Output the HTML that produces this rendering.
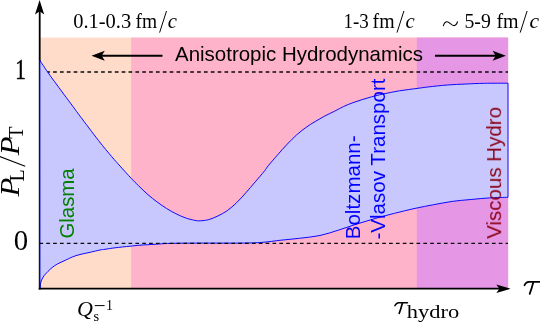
<!DOCTYPE html>
<html>
<head>
<meta charset="utf-8">
<title>Pressure anisotropy evolution</title>
<style>
html,body{margin:0;padding:0;background:#ffffff;}
body{width:540px;height:322px;overflow:hidden;font-family:"Liberation Sans",sans-serif;}
svg{display:block;}
.sans{font-family:"Liberation Sans",sans-serif;}
.ser{font-family:"Liberation Serif",serif;}
.it{font-family:"Liberation Serif",serif;font-style:italic;}
</style>
</head>
<body>
<svg width="540" height="322" viewBox="0 0 540 322">
  <rect x="0" y="0" width="540" height="322" fill="#ffffff"/>

  <!-- background bands -->
  <rect x="39.6" y="37.6" width="468.5" height="250.9" fill="#ffdcc9"/>
  <rect x="131.1" y="37.6" width="377" height="250.9" fill="#ffb3ca"/>
  <rect x="416.8" y="37.6" width="91.3" height="250.9" fill="#e597e6"/>

  <!-- axes -->
  <line x1="39.7" y1="8" x2="39.7" y2="289.5" stroke="#000" stroke-width="1.8"/>
  <path d="M39.6,0 L44.2,14.5 L39.6,11.2 L35,14.5 Z" fill="#000"/>
  <line x1="38.7" y1="288.7" x2="500" y2="288.7" stroke="#000" stroke-width="1.8"/>
  <path d="M510.6,288.7 L496.3,293 L499.4,288.7 L496.3,284.4 Z" fill="#000"/>

  <!-- dashed line at 1 -->
  <line x1="39.4" y1="72" x2="508" y2="72" stroke="#0a0a0a" stroke-width="1.35" stroke-dasharray="3.7 3.156"/>

  <!-- blue band -->
  <path id="band" fill="#c8c8ff" stroke="#0000ff" stroke-width="0.95" stroke-linejoin="miter"
    d="M39.60,60.00 C40.93,62.00 45.10,68.38 47.60,72.00 C50.10,75.62 51.88,77.98 54.60,81.70 C57.32,85.42 60.80,90.12 63.90,94.30 C67.00,98.48 70.50,103.15 73.20,106.80 C75.90,110.45 75.87,110.57 80.10,116.20 C84.33,121.83 93.33,133.87 98.60,140.60 C103.87,147.33 108.13,152.37 111.70,156.60 C115.27,160.83 116.75,162.38 120.00,166.00 C123.25,169.62 128.10,175.00 131.20,178.30 C134.30,181.60 135.82,183.08 138.60,185.80 C141.38,188.52 144.80,191.90 147.90,194.60 C151.00,197.30 154.08,199.68 157.20,202.00 C160.32,204.32 163.48,206.55 166.60,208.50 C169.72,210.45 172.80,212.15 175.90,213.70 C179.00,215.25 182.10,216.70 185.20,217.80 C188.30,218.90 192.02,219.80 194.50,220.30 C196.98,220.80 197.72,220.92 200.10,220.80 C202.48,220.68 205.82,220.42 208.80,219.60 C211.78,218.78 214.93,217.38 218.00,215.90 C221.07,214.42 224.10,212.90 227.20,210.70 C230.30,208.50 233.48,205.70 236.60,202.70 C239.72,199.70 242.80,196.17 245.90,192.70 C249.00,189.23 252.13,185.48 255.20,181.90 C258.27,178.32 262.07,173.97 264.30,171.20 C266.53,168.43 266.33,168.08 268.60,165.30 C270.87,162.52 274.80,158.02 277.90,154.50 C281.00,150.98 284.08,147.47 287.20,144.20 C290.32,140.93 293.48,137.68 296.60,134.90 C299.72,132.12 302.80,129.73 305.90,127.50 C309.00,125.27 312.05,123.42 315.20,121.50 C318.35,119.58 321.53,117.73 324.80,116.00 C328.07,114.27 331.67,112.68 334.80,111.10 C337.93,109.52 340.58,107.90 343.60,106.50 C346.62,105.10 349.80,103.85 352.90,102.70 C356.00,101.55 359.08,100.58 362.20,99.60 C365.32,98.62 368.48,97.65 371.60,96.80 C374.72,95.95 377.80,95.22 380.90,94.50 C384.00,93.78 387.10,93.12 390.20,92.50 C393.30,91.88 396.40,91.30 399.50,90.80 C402.60,90.30 405.70,89.92 408.80,89.50 C411.90,89.08 414.80,88.73 418.10,88.30 C421.40,87.87 423.75,87.45 428.60,86.90 C433.45,86.35 440.98,85.48 447.20,85.00 C453.42,84.52 459.68,84.28 465.90,84.00 C472.12,83.72 477.48,83.43 484.50,83.30 C491.52,83.17 504.08,83.22 508.00,83.20 L508.00,197.30 C504.92,197.40 495.68,197.53 489.50,197.90 C483.32,198.27 477.12,198.92 470.90,199.50 C464.68,200.08 458.42,200.53 452.20,201.40 C445.98,202.27 439.80,203.53 433.60,204.70 C427.40,205.87 421.52,206.97 415.00,208.40 C408.48,209.83 401.02,211.65 394.50,213.30 C387.98,214.95 382.12,216.53 375.90,218.30 C369.68,220.07 363.42,221.93 357.20,223.90 C350.98,225.87 344.80,228.17 338.60,230.10 C332.40,232.03 326.52,234.13 320.00,235.50 C313.48,236.87 306.02,237.52 299.50,238.30 C292.98,239.08 287.15,239.52 280.90,240.20 C274.65,240.88 268.82,241.92 262.00,242.40 C255.18,242.88 250.33,242.98 240.00,243.10 C229.67,243.22 211.67,243.05 200.00,243.10 C188.33,243.15 177.50,243.20 170.00,243.40 C162.50,243.60 160.00,244.00 155.00,244.30 C150.00,244.60 144.17,244.88 140.00,245.20 C135.83,245.52 134.15,245.77 130.00,246.20 C125.85,246.63 119.27,247.28 115.10,247.80 C110.93,248.32 107.52,248.93 105.00,249.30 C102.48,249.67 102.48,249.50 100.00,250.00 C97.52,250.50 93.43,251.55 90.10,252.30 C86.77,253.05 82.97,253.72 80.00,254.50 C77.03,255.28 74.78,256.02 72.30,257.00 C69.82,257.98 67.58,259.23 65.10,260.40 C62.62,261.57 59.57,262.80 57.40,264.00 C55.23,265.20 53.65,266.38 52.10,267.60 C50.55,268.82 49.43,269.95 48.10,271.30 C46.77,272.65 45.18,274.23 44.10,275.70 C43.02,277.17 42.22,278.68 41.60,280.10 C40.98,281.52 40.72,282.88 40.40,284.20 C40.08,285.52 39.82,287.37 39.70,288.00 Z"/>

  <line x1="39.65" y1="60.3" x2="39.65" y2="288" stroke="#0000b8" stroke-width="1.3"/>
  <!-- dashed line at 0 -->
  <line x1="39.4" y1="243.3" x2="508" y2="243.3" stroke="#0a0a0a" stroke-width="1.35" stroke-dasharray="3.7 3.156"/>

  <!-- top annotation arrows -->
  <line x1="100" y1="55.7" x2="162.5" y2="55.7" stroke="#000" stroke-width="2"/>
  <path d="M91.5,55.7 L104.8,50.7 L101.7,55.7 L104.8,60.7 Z" fill="#000"/>
  <line x1="435" y1="55.7" x2="497" y2="55.7" stroke="#000" stroke-width="2"/>
  <path d="M505.9,55.7 L492.6,50.7 L495.7,55.7 L492.6,60.7 Z" fill="#000"/>

  <g id="labels" opacity="0.999">
  <!-- Anisotropic Hydrodynamics -->
  <text class="sans" font-size="20.4" x="175" y="60.7" textLength="248" lengthAdjust="spacingAndGlyphs" fill="#000">Anisotropic Hydrodynamics</text>

  <!-- vertical labels -->
  <text class="sans" font-size="20.4" transform="translate(74.4,238.6) rotate(-90)" fill="#008000">Glasma</text>
  <text class="sans" font-size="20.55" transform="translate(359.8,239.3) rotate(-90)" fill="#0000ff">Boltzmann-</text>
  <text class="sans" font-size="20.55" transform="translate(385.3,239.5) rotate(-90)" fill="#0000ff">-Vlasov Transport</text>
  <text class="sans" font-size="20.5" transform="translate(501.1,238.8) rotate(-90)" fill="#8c0014">Viscous Hydro</text>

  <!-- top time labels -->
  <g font-size="20.8" fill="#000">
    <text class="ser" x="73.2" y="28" textLength="58" lengthAdjust="spacingAndGlyphs">0.1-0.3</text>
    <text class="ser" x="135.6" y="28" textLength="21.6" lengthAdjust="spacingAndGlyphs">fm</text>
    <line x1="159.6" y1="32.6" x2="166.5" y2="11" stroke="#000" stroke-width="1"/>
    <text class="it" x="167.8" y="28" font-size="20" textLength="9.2" lengthAdjust="spacingAndGlyphs">c</text>

    <text class="ser" x="343.5" y="28" textLength="25.2" lengthAdjust="spacingAndGlyphs">1-3</text>
    <text class="ser" x="372.6" y="28" textLength="22" lengthAdjust="spacingAndGlyphs">fm</text>
    <line x1="397" y1="32.6" x2="403.9" y2="11" stroke="#000" stroke-width="1"/>
    <text class="it" x="405.4" y="28" font-size="20" textLength="9.2" lengthAdjust="spacingAndGlyphs">c</text>

    <path d="M443.4,25.7 C444.1,23.2 445.3,21.7 447,21.7 C449.5,21.7 451.3,25.6 454,25.6 C455.6,25.6 456.8,24.2 457.5,21.7" fill="none" stroke="#000" stroke-width="1.1" stroke-linecap="round"/>
    <text class="ser" x="464.4" y="28" textLength="26.4" lengthAdjust="spacingAndGlyphs">5-9</text>
    <text class="ser" x="496.4" y="28" textLength="22.2" lengthAdjust="spacingAndGlyphs">fm</text>
    <line x1="520.2" y1="32.6" x2="527.1" y2="11" stroke="#000" stroke-width="1"/>
    <text class="it" x="529.4" y="28" font-size="20" textLength="9.6" lengthAdjust="spacingAndGlyphs">c</text>
  </g>

  <!-- axis tick labels -->
  <text class="ser" transform="translate(20.5,79.2) scale(0.74,1)" text-anchor="middle" font-size="28.6" fill="#000" stroke="#000" stroke-width="0.55">1</text>
  <text class="ser" x="13.8" y="250.2" font-size="28.8" fill="#000">0</text>

  <!-- y axis label P_L / P_T -->
  <g fill="#000">
    <text class="it" transform="translate(19.1,196.6) rotate(-90)" font-size="26.8" textLength="18.8" lengthAdjust="spacingAndGlyphs">P</text>
    <text class="ser" transform="translate(23.7,181.6) rotate(-90)" font-size="20">L</text>
    <line x1="25.2" y1="166.2" x2="-1" y2="156.3" stroke="#000" stroke-width="1.1"/>
    <text class="it" transform="translate(19.1,155.2) rotate(-90)" font-size="26.8" textLength="18.8" lengthAdjust="spacingAndGlyphs">P</text>
    <text class="ser" transform="translate(23.3,138.8) rotate(-90)" font-size="20">T</text>
  </g>

  <!-- x axis labels -->
  <g fill="#000">
    <text class="it" x="76.9" y="316.4" font-size="22">Q</text>
    <text class="ser" x="93.4" y="321.4" font-size="14.5">s</text>
    <line x1="94.7" y1="305.6" x2="104.6" y2="305.6" stroke="#000" stroke-width="1"/>
    <text class="ser" x="106" y="309.6" font-size="14">1</text>

    <path d="M394.9,305.8 C395.8,303.8 396.9,302.7 398.7,302.7 L407.5,302.7" fill="none" stroke="#000" stroke-width="1.5" stroke-linecap="round"/>
    <path d="M402.4,303 C401.4,307 400.2,311 399.2,313.3" fill="none" stroke="#000" stroke-width="1.7" stroke-linecap="round"/>
    <text class="ser" x="406.8" y="318.3" font-size="19.2" textLength="52.4" lengthAdjust="spacingAndGlyphs">hydro</text>
    <path d="M524.4,285.3 C525.4,283.2 526.7,281.9 528.7,281.9 L541,281.9" fill="none" stroke="#000" stroke-width="1.6" stroke-linecap="round"/>
    <path d="M533.3,282.2 C532.2,286.5 530.8,291 529.7,293.9" fill="none" stroke="#000" stroke-width="1.8" stroke-linecap="round"/>
  </g>
  </g>
</svg>
</body>
</html>
